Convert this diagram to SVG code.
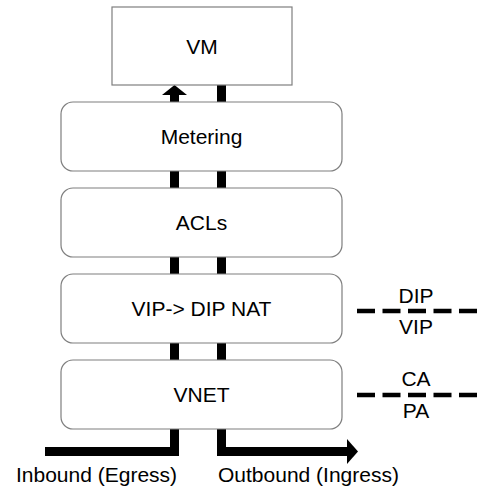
<svg xmlns="http://www.w3.org/2000/svg" width="477" height="487" viewBox="0 0 477 487">
<style>
.box{fill:#fff;stroke:#7f7f7f;stroke-width:1.2}
.t{font-family:"Liberation Sans",Arial,sans-serif;font-size:21px;fill:#000}
.m{text-anchor:middle}
.flow{fill:none;stroke:#000;stroke-width:9;stroke-linejoin:miter;stroke-linecap:butt}
.dash{stroke:#000;stroke-width:4.5;stroke-dasharray:18 7.5}
</style>
<rect width="477" height="487" fill="#fff"/>
<g id="connectors">
<path class="flow" d="M45,451.5 H174.5 V94"/>
<polygon points="162,95 174.5,85 187,95" fill="#000"/>
<path class="flow" d="M221.5,85 V451.5 H348"/>
<polygon points="347,439 358,451.5 347,464" fill="#000"/>
</g>
<g id="vm"><rect class="box" x="112" y="7" width="180" height="78"/><text class="t m" x="202" y="54">VM</text></g>
<g id="metering"><rect class="box" x="61" y="102" width="281" height="69" rx="12"/><text class="t m" x="201.5" y="144">Metering</text></g>
<g id="acls"><rect class="box" x="61" y="188" width="281" height="69" rx="12"/><text class="t m" x="201.5" y="230">ACLs</text></g>
<g id="nat"><rect class="box" x="61" y="274" width="281" height="69" rx="12"/><text class="t m" x="201.5" y="316">VIP-&gt; DIP NAT</text></g>
<g id="vnet"><rect class="box" x="61" y="360" width="281" height="69" rx="12"/><text class="t m" x="201.5" y="402">VNET</text></g>
<g id="boundary1"><line class="dash" x1="357" y1="311" x2="477" y2="311"/><text class="t m" x="416" y="303">DIP</text><text class="t m" x="416" y="334">VIP</text></g>
<g id="boundary2"><line class="dash" x1="357" y1="395" x2="477" y2="395"/><text class="t m" x="416" y="386">CA</text><text class="t m" x="416" y="418">PA</text></g>
<g id="labels"><text class="t" x="16" y="482">Inbound (Egress)</text><text class="t" x="218" y="482">Outbound (Ingress)</text></g>
</svg>
